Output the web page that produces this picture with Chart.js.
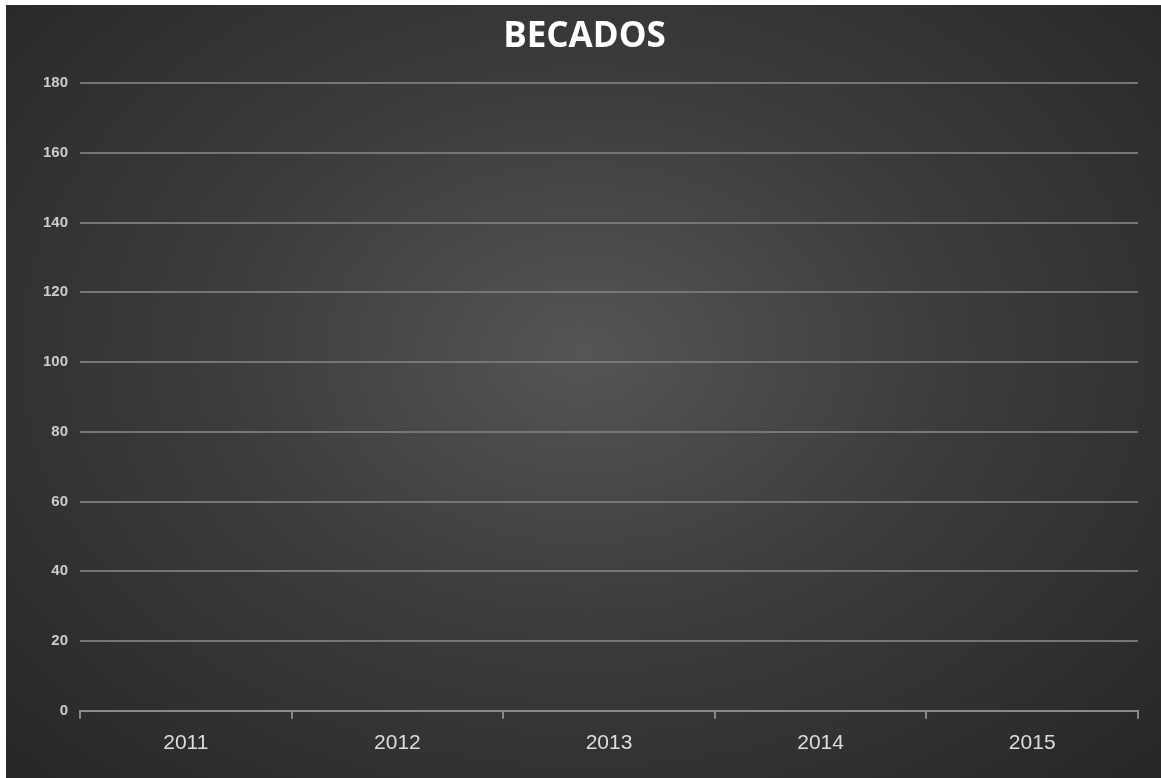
<!DOCTYPE html>
<html>
<head>
<meta charset="utf-8">
<script src="https://cdn.jsdelivr.net/npm/chart.js@4"></script>
<style>
    html, body { margin: 0; padding: 0; background: #fff; }
    #wrap {
        position: absolute; left: 6px; top: 5px; width: 1155px; height: 773px;
        background: radial-gradient(ellipse at 50% 45%, #555 0%, #3c3c3c 45%, #262626 100%);
    }
</style>
</head>
<body>
<div id="wrap"><canvas id="barChart"></canvas></div>
<script>
    // Dados do gráfico (nenhuma barra visível na imagem)
    var years = ['2011', '2012', '2013', '2014', '2015'];
    var becados = [0, 0, 0, 0, 0];
    var yMax = 180;
    var yStep = 20;

    var barChart = new Chart(document.getElementById('barChart').getContext('2d'), {
        type: 'bar',
        data: {
            labels: years,
            datasets: [{
                label: 'Becados',
                backgroundColor: '#5b9bd5',
                borderWidth: 0,
                data: becados,
            }]
        },
        options: {
            responsive: true,
            maintainAspectRatio: false,
            animation: false,
            layout: { padding: { left: 25, right: 23, top: 0, bottom: 10 } },
            plugins: {
                legend: { display: false },
                tooltip: { enabled: false },
                title: {
                    display: true,
                    text: 'BECADOS',
                    color: '#ffffff',
                    font: { family: 'Open Sans', size: 35, weight: 'bold' },
                    padding: { top: 11, bottom: 25 }
                }
            },
            scales: {
                x: {
                    grid: { drawOnChartArea: false, drawTicks: true, tickLength: 8, color: '#8a8a8a', lineWidth: 2 },
                    border: { display: true, color: '#8a8a8a', width: 2 },
                    ticks: { color: '#dddddd', font: { family: 'Liberation Sans', size: 21 }, padding: 12 }
                },
                y: {
                    min: 0,
                    max: yMax,
                    grid: { color: '#767676', lineWidth: 2, drawTicks: false },
                    border: { display: false },
                    ticks: { stepSize: yStep, color: '#cccccc', font: { family: 'Liberation Sans', size: 15, weight: 'bold' }, padding: 12 }
                }
            }
        }
    });
</script>
</body>
</html>
